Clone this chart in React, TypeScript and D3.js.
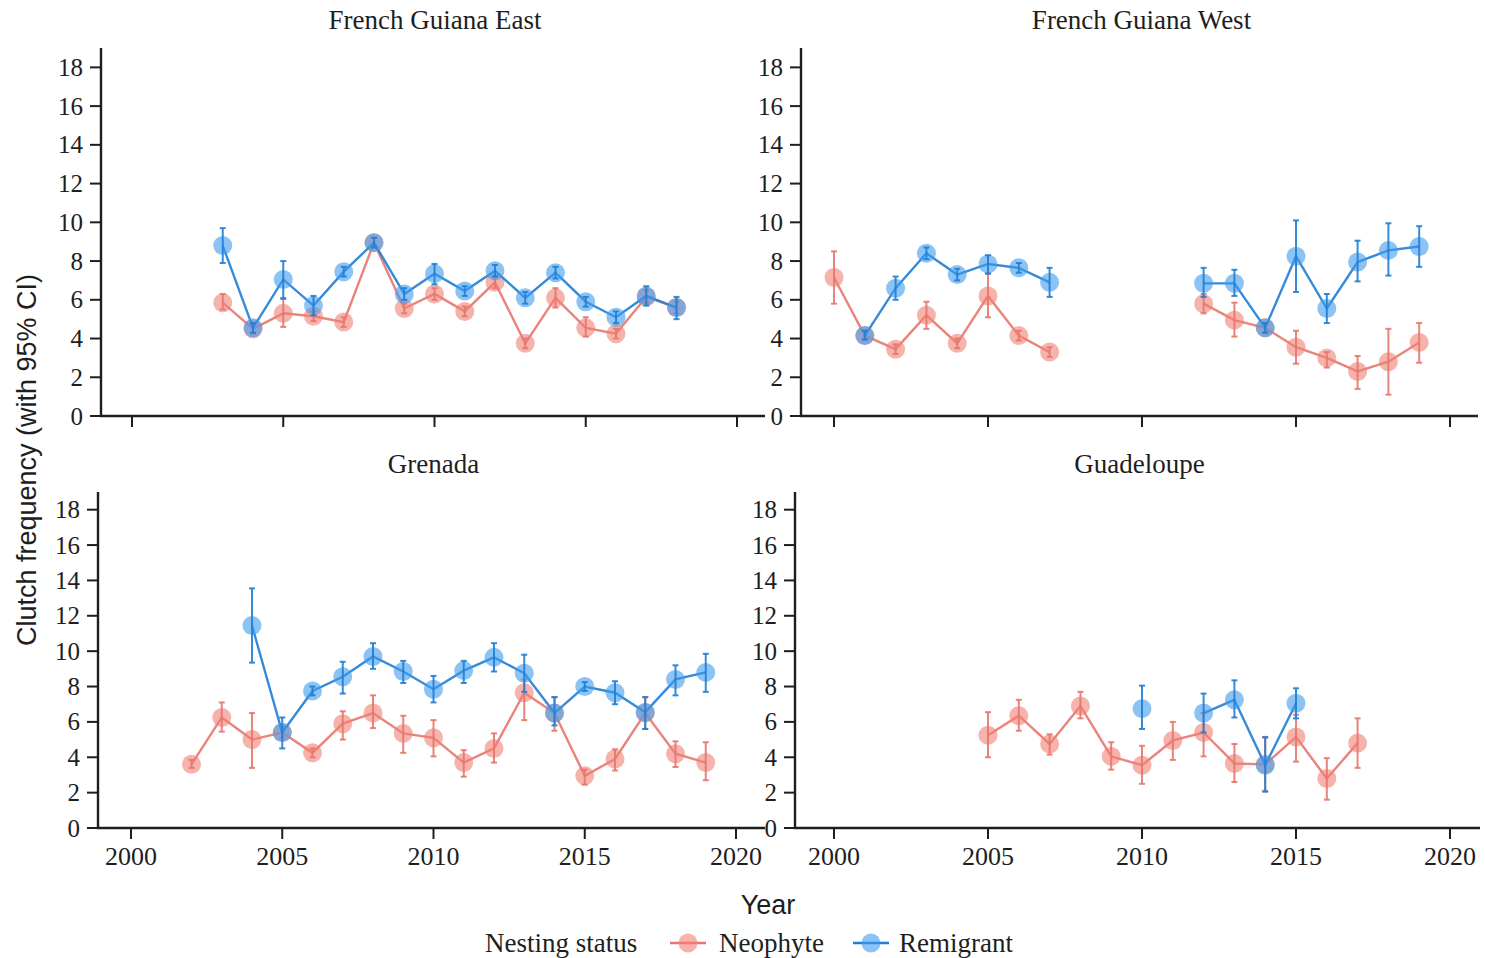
import React from "react";
import * as d3 from "d3";

// Clutch frequency per year and nesting status, with 95% confidence limits.
type Pt = { year: number; v: number; lo: number; hi: number };

// French Guiana East
const fgeNeoYears = [2003, 2004, 2005, 2006, 2007, 2008, 2009, 2010, 2011, 2012, 2013, 2014, 2015, 2016, 2017, 2018];
const fgeNeoMean = [5.85, 4.5, 5.3, 5.15, 4.85, 8.95, 5.55, 6.3, 5.4, 6.9, 3.75, 6.1, 4.55, 4.25, 6.15, 5.6];
const fgeNeoLo = [5.5, 4.25, 4.6, 4.9, 4.6, 8.7, 5.3, 6.0, 5.15, 6.6, 3.5, 5.6, 4.1, 4.0, 5.85, 5.3];
const fgeNeoHi = [6.3, 4.75, 6.1, 5.4, 5.1, 9.2, 5.8, 6.6, 5.65, 7.2, 4.0, 6.6, 5.1, 4.5, 6.5, 5.9];

const fgeRemYears = [2003, 2004, 2005, 2006, 2007, 2008, 2009, 2010, 2011, 2012, 2013, 2014, 2015, 2016, 2017, 2018];
const fgeRemMean = [8.8, 4.55, 7.05, 5.7, 7.45, 8.95, 6.3, 7.35, 6.45, 7.5, 6.1, 7.4, 5.9, 5.1, 6.2, 5.6];
const fgeRemLo = [7.9, 4.3, 6.05, 5.2, 7.2, 8.7, 6.0, 6.8, 6.2, 7.2, 5.8, 7.1, 5.65, 4.8, 5.7, 5.0];
const fgeRemHi = [9.7, 4.8, 8.0, 6.2, 7.7, 9.2, 6.6, 7.85, 6.7, 7.8, 6.4, 7.7, 6.15, 5.4, 6.7, 6.15];

// French Guiana West
const fgwNeoYears = [2000, 2001, 2002, 2003, 2004, 2005, 2006, 2007, 2012, 2013, 2014, 2015, 2016, 2017, 2018, 2019];
const fgwNeoMean = [7.15, 4.15, 3.45, 5.2, 3.75, 6.2, 4.15, 3.3, 5.8, 4.95, 4.55, 3.55, 3.0, 2.3, 2.8, 3.8];
const fgwNeoLo = [5.8, 3.95, 3.2, 4.5, 3.5, 5.1, 3.9, 3.05, 5.3, 4.1, 4.3, 2.7, 2.5, 1.4, 1.1, 2.75];
const fgwNeoHi = [8.5, 4.4, 3.7, 5.9, 4.0, 7.35, 4.4, 3.55, 6.3, 5.85, 4.8, 4.4, 3.3, 3.1, 4.5, 4.8];

const fgwRemYears = [2001, 2002, 2003, 2004, 2005, 2006, 2007, 2012, 2013, 2014, 2015, 2016, 2017, 2018, 2019];
const fgwRemMean = [4.15, 6.6, 8.4, 7.3, 7.85, 7.65, 6.9, 6.85, 6.85, 4.55, 8.25, 5.55, 7.95, 8.55, 8.75];
const fgwRemLo = [3.95, 6.0, 8.1, 7.0, 7.35, 7.4, 6.15, 6.15, 6.2, 4.3, 6.4, 4.8, 6.95, 7.25, 7.7];
const fgwRemHi = [4.4, 7.2, 8.7, 7.6, 8.3, 7.9, 7.65, 7.65, 7.55, 4.8, 10.1, 6.3, 9.05, 9.95, 9.8];

// Grenada
const grnNeoYears = [2002, 2003, 2004, 2005, 2006, 2007, 2008, 2009, 2010, 2011, 2012, 2013, 2014, 2015, 2016, 2017, 2018, 2019];
const grnNeoMean = [3.6, 6.25, 5.0, 5.4, 4.25, 5.9, 6.5, 5.35, 5.1, 3.7, 4.5, 7.65, 6.5, 2.95, 3.9, 6.5, 4.2, 3.7];
const grnNeoLo = [3.4, 5.45, 3.4, 5.1, 4.0, 5.0, 5.65, 4.25, 4.05, 2.9, 3.7, 6.1, 5.5, 2.45, 3.25, 5.6, 3.45, 2.7];
const grnNeoHi = [3.85, 7.1, 6.5, 5.7, 4.5, 6.6, 7.5, 6.35, 6.1, 4.4, 5.35, 8.4, 7.4, 3.3, 4.45, 7.4, 4.9, 4.85];

const grnRemYears = [2004, 2005, 2006, 2007, 2008, 2009, 2010, 2011, 2012, 2013, 2014, 2015, 2016, 2017, 2018, 2019];
const grnRemMean = [11.45, 5.4, 7.75, 8.55, 9.7, 8.85, 7.85, 8.9, 9.65, 8.75, 6.5, 8.0, 7.65, 6.55, 8.4, 8.8];
const grnRemLo = [9.35, 4.5, 7.5, 7.6, 9.0, 8.2, 7.1, 8.2, 8.85, 7.7, 5.8, 7.75, 7.0, 5.6, 7.5, 7.7];
const grnRemHi = [13.55, 6.25, 8.0, 9.4, 10.45, 9.45, 8.6, 9.45, 10.45, 9.8, 7.4, 8.25, 8.3, 7.4, 9.2, 9.85];

// Guadeloupe
const gdlNeoYears = [2005, 2006, 2007, 2008, 2009, 2010, 2011, 2012, 2013, 2014, 2015, 2016, 2017];
const gdlNeoMean = [5.25, 6.35, 4.75, 6.9, 4.05, 3.55, 4.95, 5.4, 3.65, 3.6, 5.15, 2.8, 4.8];
const gdlNeoLo = [4.0, 5.5, 4.15, 6.2, 3.3, 2.5, 3.85, 4.05, 2.6, 2.1, 3.75, 1.6, 3.4];
const gdlNeoHi = [6.55, 7.25, 5.3, 7.7, 4.85, 4.65, 6.0, 6.5, 4.75, 5.1, 6.4, 3.95, 6.2];

const gdlRemYears = [2010, 2012, 2013, 2014, 2015];
const gdlRemMean = [6.75, 6.5, 7.25, 3.55, 7.05];
const gdlRemLo = [5.6, 5.4, 6.25, 2.05, 6.2];
const gdlRemHi = [8.05, 7.6, 8.35, 5.15, 7.9];

const yTicks = [0, 2, 4, 6, 8, 10, 12, 14, 16, 18];
const xTicks = [2000, 2005, 2010, 2015, 2020];

const NEO = "#F08075";
const NEO_LINE = "#E8766C";
const REM = "#3D9BEF";
const REM_LINE = "#1F7ED6";

function build(yrs: number[], m: number[], lo: number[], hi: number[]): Pt[] {
  return yrs.map((y, i) => ({ year: y, v: m[i], lo: lo[i], hi: hi[i] }));
}

type PanelDef = {
  title: string;
  left: number;
  right: number;
  top: number;
  bottom: number;
  x0: number; // pixel of year 2000
  x20: number; // pixel of year 2020
  showX: boolean;
  neo: Pt[];
  rem: Pt[];
};

const panels: PanelDef[] = [
  {
    title: "French Guiana East",
    left: 101, right: 765, top: 48, bottom: 416, x0: 132, x20: 737, showX: false,
    neo: build(fgeNeoYears, fgeNeoMean, fgeNeoLo, fgeNeoHi),
    rem: build(fgeRemYears, fgeRemMean, fgeRemLo, fgeRemHi),
  },
  {
    title: "French Guiana West",
    left: 801, right: 1478, top: 48, bottom: 416, x0: 834, x20: 1450, showX: false,
    neo: build(fgwNeoYears, fgwNeoMean, fgwNeoLo, fgwNeoHi),
    rem: build(fgwRemYears, fgwRemMean, fgwRemLo, fgwRemHi),
  },
  {
    title: "Grenada",
    left: 98, right: 765, top: 492, bottom: 828, x0: 131, x20: 736, showX: true,
    neo: build(grnNeoYears, grnNeoMean, grnNeoLo, grnNeoHi),
    rem: build(grnRemYears, grnRemMean, grnRemLo, grnRemHi),
  },
  {
    title: "Guadeloupe",
    left: 795, right: 1480, top: 492, bottom: 828, x0: 834, x20: 1450, showX: true,
    neo: build(gdlNeoYears, gdlNeoMean, gdlNeoLo, gdlNeoHi),
    rem: build(gdlRemYears, gdlRemMean, gdlRemLo, gdlRemHi),
  },
];

const SERIF = "'Liberation Serif', 'Times New Roman', serif";
const SANS = "'Liberation Sans', Arial, sans-serif";
const INK = "#1e1e1e";

// Split a series into runs of consecutive years so gaps break the line.
function runs(pts: Pt[]): Pt[][] {
  const out: Pt[][] = [];
  let cur: Pt[] = [];
  pts.forEach((p, i) => {
    if (i > 0 && p.year - pts[i - 1].year > 1) {
      out.push(cur);
      cur = [];
    }
    cur.push(p);
  });
  if (cur.length) out.push(cur);
  return out;
}

function Series({ pts, x, y, fill, stroke }: { pts: Pt[]; x: d3.ScaleLinear<number, number>; y: d3.ScaleLinear<number, number>; fill: string; stroke: string }) {
  const line = d3.line<Pt>().x((d) => x(d.year)).y((d) => y(d.v));
  return (
    <g>
      {runs(pts).map((r, i) => (
        <path key={"l" + i} d={line(r) || ""} fill="none" stroke={stroke} strokeWidth={2.4} strokeOpacity={0.9} />
      ))}
      {pts.map((p) => (
        <circle key={"c" + p.year} cx={x(p.year)} cy={y(p.v)} r={9.5} fill={fill} fillOpacity={0.6} />
      ))}
      {pts.map((p) => (
        <g key={"e" + p.year} stroke={stroke} strokeWidth={2} strokeOpacity={0.9}>
          <line x1={x(p.year)} x2={x(p.year)} y1={y(p.lo)} y2={y(p.hi)} />
          <line x1={x(p.year) - 3} x2={x(p.year) + 3} y1={y(p.lo)} y2={y(p.lo)} />
          <line x1={x(p.year) - 3} x2={x(p.year) + 3} y1={y(p.hi)} y2={y(p.hi)} />
        </g>
      ))}
    </g>
  );
}

function Panel({ p }: { p: PanelDef }) {
  const x = d3.scaleLinear().domain([2000, 2020]).range([p.x0, p.x20]);
  const y = d3.scaleLinear().domain([0, 19]).range([p.bottom, p.top]);
  const cx = (p.left + p.right) / 2 + 2;
  return (
    <g>
      <text x={cx} y={p.top - 19} textAnchor="middle" fontFamily={SERIF} fontSize={27} fill={INK}>
        {p.title}
      </text>
      <line x1={p.left} x2={p.left} y1={p.top} y2={p.bottom + 1} stroke={INK} strokeWidth={2.4} />
      <line x1={p.left - 1} x2={p.right} y1={p.bottom} y2={p.bottom} stroke={INK} strokeWidth={2.4} />
      {yTicks.map((t) => (
        <g key={"y" + t}>
          <line x1={p.left - 11} x2={p.left} y1={y(t)} y2={y(t)} stroke={INK} strokeWidth={2} />
          <text x={p.left - 18} y={y(t)} dy="0.34em" textAnchor="end" fontFamily={SERIF} fontSize={25} fill={INK}>
            {t}
          </text>
        </g>
      ))}
      {xTicks.map((t) => (
        <g key={"x" + t}>
          <line x1={x(t)} x2={x(t)} y1={p.bottom} y2={p.bottom + 11} stroke={INK} strokeWidth={2} />
          {p.showX && (
            <text x={x(t)} y={p.bottom + 37} textAnchor="middle" fontFamily={SERIF} fontSize={26} fill={INK}>
              {t}
            </text>
          )}
        </g>
      ))}
      <Series pts={p.neo} x={x} y={y} fill={NEO} stroke={NEO_LINE} />
      <Series pts={p.rem} x={x} y={y} fill={REM} stroke={REM_LINE} />
    </g>
  );
}

export default function App() {
  return (
    <svg width={1485} height={958} style={{ position: "absolute", left: 0, top: 0, background: "#fff" }}>
      <rect width={1485} height={958} fill="#fff" />
      {panels.map((p) => (
        <Panel key={p.title} p={p} />
      ))}
      <text transform="translate(36,460) rotate(-90)" textAnchor="middle" fontFamily={SANS} fontSize={27} fill={INK}>
        Clutch frequency (with 95% CI)
      </text>
      <text x={768} y={914} textAnchor="middle" fontFamily={SANS} fontSize={27} fill={INK}>
        Year
      </text>
      <text x={485} y={952} fontFamily={SERIF} fontSize={27} fill={INK}>Nesting status</text>
      <line x1={670} x2={706} y1={943} y2={943} stroke={NEO_LINE} strokeWidth={2.4} />
      <circle cx={688} cy={943} r={9.5} fill={NEO} fillOpacity={0.6} />
      <text x={719} y={952} fontFamily={SERIF} fontSize={27} fill={INK}>Neophyte</text>
      <line x1={853} x2={889} y1={943} y2={943} stroke={REM_LINE} strokeWidth={2.4} />
      <circle cx={871} cy={943} r={9.5} fill={REM} fillOpacity={0.6} />
      <text x={899} y={952} fontFamily={SERIF} fontSize={27} fill={INK}>Remigrant</text>
    </svg>
  );
}
